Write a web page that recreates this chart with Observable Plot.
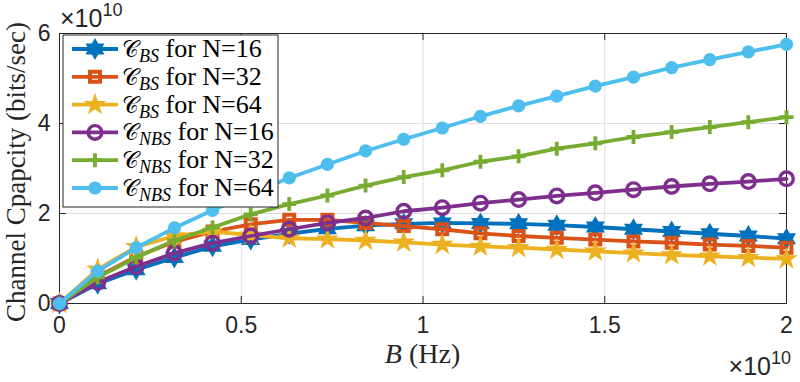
<!DOCTYPE html>
<html>
<head>
<meta charset="utf-8">
<script src="https://cdn.jsdelivr.net/npm/d3@7"></script>
<script src="https://cdn.jsdelivr.net/npm/@observablehq/plot@0.6"></script>
<style>
  body { margin: 0; background: #fff; }
  #chart { position: relative; width: 800px; height: 382px; }
</style>
</head>
<body>
<div id="chart"></div>
<script>
// Bandwidth B (in units of 1e10 Hz)
const bandwidth = [0, 0.105, 0.211, 0.316, 0.421, 0.526, 0.632, 0.737, 0.842, 0.947,
                   1.053, 1.158, 1.263, 1.368, 1.474, 1.579, 1.684, 1.789, 1.895, 2.0];

// Channel capacity (in units of 1e10 bits/sec)
const capBS16  = [0, 0.44, 0.75, 1.02, 1.27, 1.42, 1.55, 1.66, 1.73, 1.77, 1.79, 1.78, 1.77, 1.74, 1.70, 1.65, 1.60, 1.55, 1.50, 1.44];
const capBS32  = [0, 0.60, 1.04, 1.37, 1.60, 1.76, 1.86, 1.86, 1.79, 1.72, 1.65, 1.56, 1.50, 1.46, 1.42, 1.38, 1.35, 1.31, 1.28, 1.24];
const capBS64  = [0, 0.76, 1.26, 1.50, 1.60, 1.52, 1.45, 1.43, 1.40, 1.36, 1.31, 1.27, 1.24, 1.20, 1.16, 1.12, 1.08, 1.05, 1.02, 0.99];
const capNBS16 = [0, 0.47, 0.82, 1.12, 1.34, 1.50, 1.65, 1.79, 1.90, 2.05, 2.13, 2.23, 2.31, 2.39, 2.46, 2.53, 2.60, 2.66, 2.71, 2.77];
const capNBS32 = [0, 0.58, 1.02, 1.40, 1.69, 1.98, 2.21, 2.40, 2.62, 2.81, 2.96, 3.15, 3.27, 3.44, 3.56, 3.70, 3.81, 3.92, 4.03, 4.14];
const capNBS64 = [0, 0.72, 1.24, 1.68, 2.07, 2.45, 2.79, 3.09, 3.39, 3.65, 3.90, 4.16, 4.39, 4.61, 4.83, 5.03, 5.24, 5.42, 5.59, 5.76];

// Legend entries: scheme subscript and antenna count
const schemes  = ["BS", "BS", "BS", "NBS", "NBS", "NBS"];
const antennas = ["16", "32", "64", "16", "32", "64"];
const seriesValues = [capBS16, capBS32, capBS64, capNBS16, capNBS32, capNBS64];

// Axis ticks
const xTicks = [0, 0.5, 1, 1.5, 2];
const yTicks = [0, 2, 4, 6];
const exponentLabel = "10";

// ---- marker shapes (size is the symbol area, as Plot passes it) ----
function starSymbol(points, innerRatio) {
  return {
    draw(ctx, size) {
      const R = Math.sqrt(size / Math.PI), r = R * innerRatio;
      for (let k = 0; k < 2 * points; ++k) {
        const a = -Math.PI / 2 + k * Math.PI / points;
        const rr = k % 2 ? r : R;
        if (k === 0) ctx.moveTo(rr * Math.cos(a), rr * Math.sin(a));
        else ctx.lineTo(rr * Math.cos(a), rr * Math.sin(a));
      }
      ctx.closePath();
    }
  };
}
const hexagram = starSymbol(6, 0.577);
const pentagram = starSymbol(5, 0.382);
const squareSym = { draw(ctx, size) { const h = Math.sqrt(size / Math.PI); ctx.rect(-h, -h, 2 * h, 2 * h); } };
const circleSym = { draw(ctx, size) { const r = Math.sqrt(size / Math.PI); ctx.moveTo(r, 0); ctx.arc(0, 0, r, 0, 2 * Math.PI); } };
const plusSym = { draw(ctx, size) { const r = Math.sqrt(size / Math.PI); ctx.moveTo(-r, 0); ctx.lineTo(r, 0); ctx.moveTo(0, -r); ctx.lineTo(0, r); } };

// ---- per-series styling ----
const styles = [
  {color: "#0072BD", symbol: hexagram,  r: 11,  filled: true},
  {color: "#D95319", symbol: squareSym, r: 5,   filled: false, sw: 4},
  {color: "#EDB120", symbol: pentagram, r: 12,  filled: true},
  {color: "#7E2F8E", symbol: circleSym, r: 6.8, filled: false, sw: 3.4},
  {color: "#77AC30", symbol: plusSym,   r: 7,   filled: false, sw: 3.8},
  {color: "#4DBEEE", symbol: circleSym, r: 6.6, filled: true}
];

// ---- layout ----
const W = 800, H = 382;
const mTop = 33, mRight = 14, mBottom = 79, mLeft = 59;
const innerW = W - mLeft - mRight, innerH = H - mTop - mBottom;
const TICK = 7;
const axisInk = "#262626";

const seriesData = seriesValues.map(vals => vals.map((c, i) => ({B: bandwidth[i], C: c})));

const marks = [
  Plot.ruleX(xTicks.slice(1, -1), {stroke: "#dedede", strokeWidth: 1}),
  Plot.ruleY(yTicks.slice(1, -1), {stroke: "#dedede", strokeWidth: 1}),
  Plot.tickX(xTicks, {x: d => d, insetTop: innerH - TICK, stroke: axisInk}),
  Plot.tickX(xTicks, {x: d => d, insetBottom: innerH - TICK, stroke: axisInk}),
  Plot.tickY(yTicks, {y: d => d, insetRight: innerW - TICK, stroke: axisInk}),
  Plot.tickY(yTicks, {y: d => d, insetLeft: innerW - TICK, stroke: axisInk}),
  Plot.frame({stroke: axisInk, strokeWidth: 1})
];
seriesData.forEach((rows, k) => {
  const s = styles[k];
  marks.push(Plot.line(rows, {x: "B", y: "C", stroke: s.color, strokeWidth: 3.8}));
  marks.push(Plot.dot(rows, {
    x: "B", y: "C", r: s.r, symbol: s.symbol,
    fill: s.filled ? s.color : "none",
    stroke: s.filled ? "none" : s.color,
    strokeWidth: s.sw || 1
  }));
});

const plot = Plot.plot({
  width: W, height: H,
  marginTop: mTop, marginRight: mRight, marginBottom: mBottom, marginLeft: mLeft,
  style: {fontFamily: "Liberation Sans, Arial, sans-serif", fontSize: "23px", color: axisInk, background: "#fff", overflow: "visible"},
  x: {domain: [0, 2], ticks: xTicks, tickFormat: d => String(d), tickSize: 0, tickPadding: 13, label: null},
  y: {domain: [0, 6], ticks: yTicks, tickFormat: d => String(d), tickSize: 0, tickPadding: 9, label: null},
  marks
});
document.getElementById("chart").appendChild(plot);

// ---- axis titles, exponent labels and legend ----
const svg = d3.select(plot);
const serif = "Liberation Serif, Times New Roman, serif";
const sans = "Liberation Sans, Arial, sans-serif";

// y-axis title
svg.append("text")
  .attr("transform", `translate(25,${mTop + innerH / 2 + 4}) rotate(-90)`)
  .attr("text-anchor", "middle")
  .attr("font-family", serif).attr("font-size", 27).attr("fill", axisInk)
  .text("Channel Cpapcity (bits/sec)");

// x-axis title
const xt = svg.append("text")
  .attr("x", mLeft + innerW / 2).attr("y", 363)
  .attr("text-anchor", "middle")
  .attr("font-family", serif).attr("font-size", 28).attr("fill", axisInk);
xt.append("tspan").attr("font-style", "italic").text("B");
xt.append("tspan").text(" (Hz)");

// exponent multipliers
function exponent(x, y, anchor) {
  const t = svg.append("text").attr("x", x).attr("y", y).attr("text-anchor", anchor)
    .attr("font-family", sans).attr("font-size", 25).attr("fill", axisInk);
  t.append("tspan").text("\u00d710");
  t.append("tspan").attr("font-size", 18).attr("dy", -11).text(exponentLabel);
}
exponent(mLeft + 1, 27, "start");
exponent(W - 9, 375, "end");

// legend
const lg = svg.append("g").attr("transform", "translate(63,35)");
lg.append("rect").attr("width", 215).attr("height", 172)
  .attr("fill", "#fff").attr("stroke", axisInk).attr("stroke-width", 1);
schemes.forEach((sch, k) => {
  const s = styles[k];
  const cy = 14 + k * 27.8;
  const row = lg.append("g").attr("transform", `translate(0,${cy})`);
  row.append("line").attr("x1", 9).attr("x2", 55).attr("stroke", s.color).attr("stroke-width", 3.8);
  row.append("path")
    .attr("transform", "translate(32,0)")
    .attr("d", d3.symbol(s.symbol, Math.PI * s.r * s.r)())
    .attr("fill", s.filled ? s.color : "none")
    .attr("stroke", s.filled ? "none" : s.color)
    .attr("stroke-width", s.sw || 1);
  const t = row.append("text").attr("x", 59).attr("y", 8)
    .attr("text-anchor", "start")
    .attr("font-family", serif).attr("font-size", 26).attr("fill", "#000");
  t.append("tspan").attr("font-size", 23).text("\u{1D49E}");
  t.append("tspan").attr("font-style", "italic").attr("font-size", 18).attr("dy", 5).text(sch);
  t.append("tspan").attr("dy", -5).text(" for N=" + antennas[k]);
});
</script>
</body>
</html>
